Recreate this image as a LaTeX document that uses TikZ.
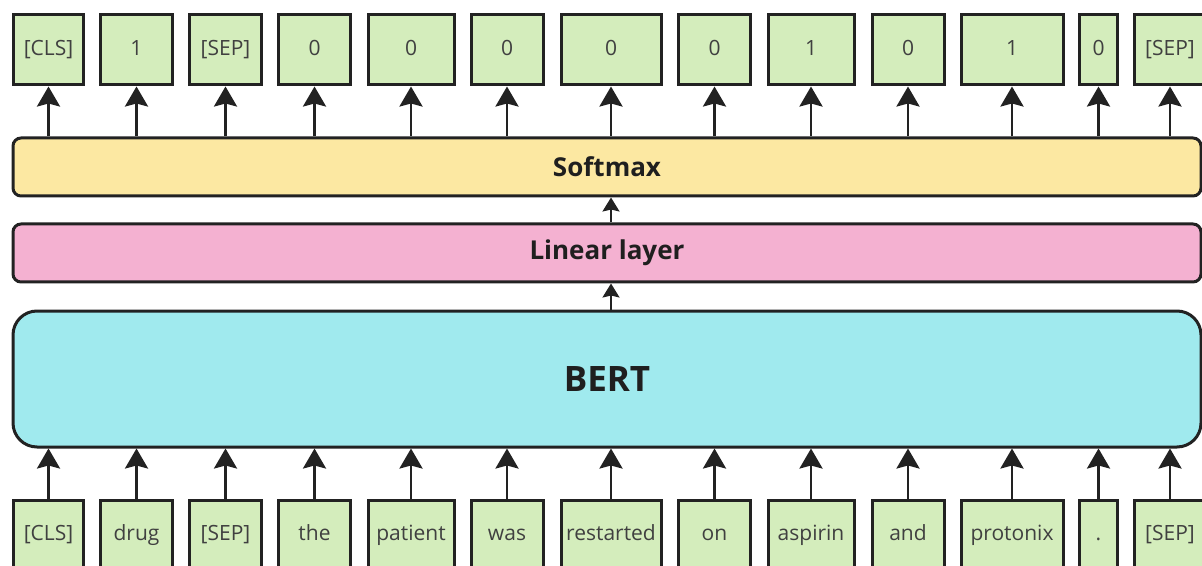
\documentclass[tikz,border=0pt]{standalone}
\usepackage{fontspec}
\setmainfont{Open Sans}
\usetikzlibrary{arrows.meta,positioning}
\definecolor{tokgreen}{RGB}{212,237,188}
\definecolor{softyellow}{RGB}{252,232,162}
\definecolor{linpink}{RGB}{244,177,209}
\definecolor{bertcyan}{RGB}{160,234,238}
\definecolor{edge}{RGB}{34,34,34}

\begin{document}
\begin{tikzpicture}[x=0.5pt,y=-0.5pt,
  tok/.style={draw=edge,line width=1.5pt,fill=tokgreen,minimum height=35pt,inner sep=0pt,
    text height=8pt,text depth=2.6pt,font=\fontsize{10.5}{12}\selectfont,text=black!75},
  bar/.style={draw=edge,line width=1.5pt,rounded corners=4pt,minimum width=594pt,minimum height=29pt,
    font=\bfseries\fontsize{13}{15}\selectfont,text=black!88},
  up/.style={-{Stealth[length=10pt,width=11.5pt,inset=1.5pt]},line width=1.4pt,draw=edge},
  upsmall/.style={-{Stealth[length=7pt,width=8.5pt,inset=1pt]},line width=1.1pt,draw=edge}]
\useasboundingbox (0,0) rectangle (1202,566);

% layers
\node[bar,fill=softyellow] (softmax) at (607,167) {Softmax};
\node[bar,fill=linpink] (linear) at (607,253) {Linear layer};
\node[bar,fill=bertcyan,minimum height=68pt,rounded corners=12pt,
  font=\bfseries\fontsize{17.5}{20}\selectfont] (bert) at (607,379) {BERT};
\draw[upsmall] (linear.north -| 611,0) -- (softmax.south -| 611,0);
\draw[upsmall] (bert.north -| 611,0) -- (linear.south -| 611,0);

% input tokens and output labels
\foreach \i/\cx/\w/\word/\lab in {1/48.5/35/{[CLS]}/{[CLS]},2/136.5/36/drug/1,3/225.5/36/{[SEP]}/{[SEP]},
  4/314.5/36/the/0,5/411/43/patient/0,6/507/36/was/0,7/611/50/restarted/0,8/714.5/36/on/0,
  9/811/43/aspirin/1,10/908/36/and/0,11/1012/51/protonix/1,12/1098.5/19/./0,13/1170/36/{[SEP]}/{[SEP]}}
{
  \node[tok,minimum width=\w pt] (in\i) at (\cx,535) {\word};
  \node[tok,minimum width=\w pt] (out\i) at (\cx,50) {\lab};
  \draw[up] (in\i.north) -- (in\i.north |- bert.south);
  \draw[up] (out\i.south |- softmax.north) -- (out\i.south);
}
\end{tikzpicture}
\end{document}
